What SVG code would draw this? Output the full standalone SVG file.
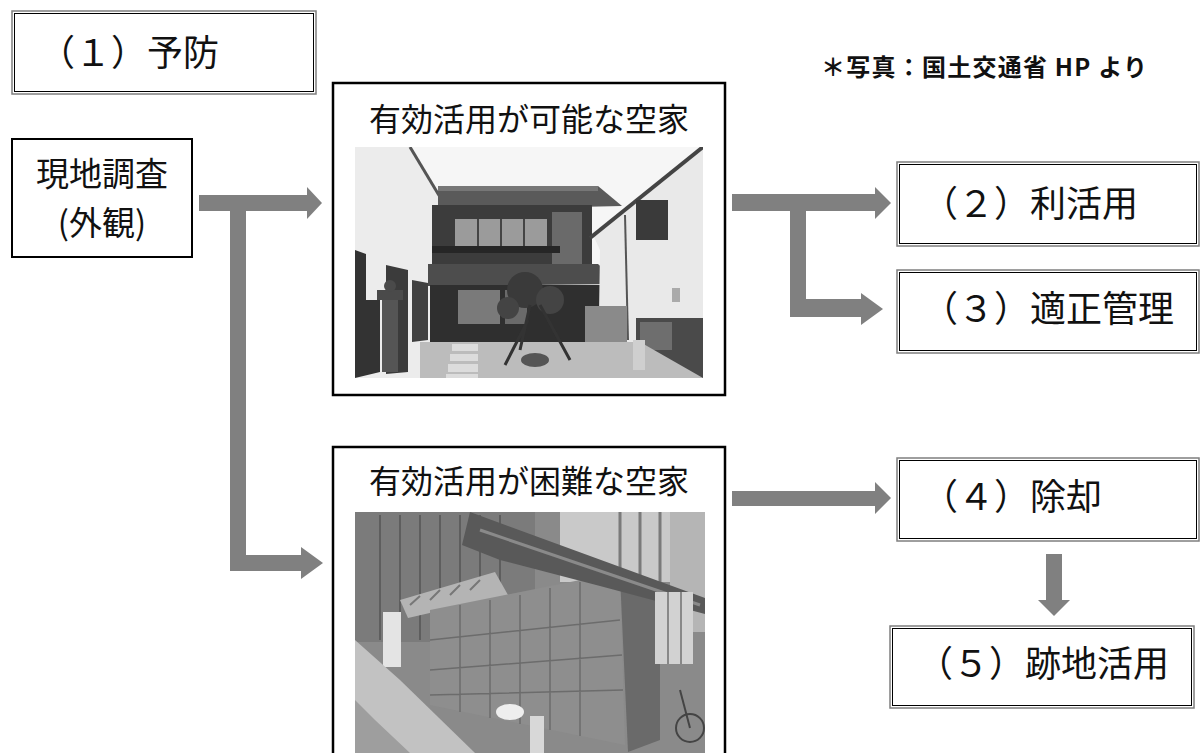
<svg xmlns="http://www.w3.org/2000/svg" width="1200" height="753" viewBox="0 0 1200 753">
<defs>
<style>
.t{font-family:"Noto Sans CJK JP","Noto Sans CJK SC",sans-serif;fill:#111}
.big{font-size:36px}
.mid{font-size:33px}
.ttl{font-size:32px}
.note{font-size:24px;font-weight:bold}
.dout{fill:#fff;stroke:#7f7f7f;stroke-width:1.5}
.din{fill:none;stroke:#000;stroke-width:1}
.solid{fill:#fff;stroke:#000;stroke-width:2}
.frame{fill:none;stroke:#000;stroke-width:2.5}
.arr{fill:#808080}
</style>
<clipPath id="c1"><rect x="355" y="147" width="348" height="231"/></clipPath>
<clipPath id="c2"><rect x="355" y="512" width="350" height="241"/></clipPath>
</defs>
<rect width="1200" height="753" fill="#fff"/>

<g id="note"><text class="t note" x="821" y="76" textLength="326" lengthAdjust="spacing">＊写真：国土交通省 HP より</text></g>

<g id="n1">
<rect class="dout" x="12" y="11" width="304" height="83"/>
<rect class="din" x="14.5" y="13.5" width="299" height="78"/>
<text class="t big" x="39" y="66">（１）予防</text>
</g>

<g id="survey">
<rect class="solid" x="12" y="139" width="180" height="118"/>
<text class="t mid" x="102" y="186" text-anchor="middle">現地調査</text>
<text class="t mid" x="102" y="235" text-anchor="middle">(外観)</text>
</g>

<g id="usable">
<rect x="333" y="83" width="392" height="312" fill="#fff"/>
<text class="t ttl" x="529" y="131" text-anchor="middle">有効活用が可能な空家</text>
<g id="photo1" clip-path="url(#c1)">
<rect x="355" y="147" width="348" height="231" fill="#f6f6f6"/>
<polygon points="355,147 410,147 442,200 440,378 355,378" fill="#ececec"/>
<line x1="410" y1="147" x2="443" y2="202" stroke="#555" stroke-width="3"/>
<polygon points="355,250 366,254 366,300 380,300 380,372 355,378" fill="#333"/>
<polygon points="386,265 408,270 408,372 386,374" fill="#3b3b3b"/>
<polygon points="412,280 428,283 428,340 412,342" fill="#404040"/>
<polygon points="438,186 598,186 622,206 438,210" fill="#5a5a5a"/>
<rect x="438" y="186" width="160" height="5" fill="#777"/>
<rect x="432" y="205" width="160" height="64" fill="#3c3c3c"/>
<rect x="455" y="219" width="92" height="29" fill="#9b9b9b"/>
<line x1="478" y1="219" x2="478" y2="248" stroke="#444" stroke-width="2"/>
<line x1="501" y1="219" x2="501" y2="248" stroke="#444" stroke-width="2"/>
<line x1="524" y1="219" x2="524" y2="248" stroke="#444" stroke-width="2"/>
<rect x="552" y="212" width="30" height="52" fill="#6a6a6a"/>
<rect x="432" y="246" width="128" height="7" fill="#262626"/>
<polygon points="428,264 598,264 620,284 428,286" fill="#4d4d4d"/>
<rect x="430" y="285" width="170" height="58" fill="#2f2f2f"/>
<rect x="458" y="290" width="42" height="34" fill="#7a7a7a"/>
<rect x="505" y="290" width="22" height="34" fill="#6a6a6a"/>
<polygon points="593,235 703,147 703,378 598,378 600,250" fill="#e9e9e9"/>
<line x1="590" y1="238" x2="703" y2="147" stroke="#444" stroke-width="4"/>
<rect x="636" y="200" width="32" height="40" fill="#3a3a3a"/>
<line x1="625" y1="215" x2="628" y2="340" stroke="#555" stroke-width="2"/>
<rect x="672" y="288" width="8" height="14" fill="#aaa"/>
<rect x="585" y="306" width="42" height="52" fill="#8a8a8a"/>
<rect x="636" y="318" width="67" height="60" fill="#4a4a4a"/>
<rect x="640" y="322" width="32" height="28" fill="#6e6e6e"/>
<polygon points="420,342 640,342 703,378 420,378" fill="#bcbcbc"/>
<rect x="452" y="344" width="26" height="7" fill="#dcdcdc"/>
<rect x="450" y="354" width="28" height="7" fill="#dcdcdc"/>
<rect x="448" y="364" width="30" height="8" fill="#dcdcdc"/>
<rect x="446" y="374" width="32" height="6" fill="#dcdcdc"/>
<circle cx="525" cy="290" r="18" fill="#3a3a3a"/>
<circle cx="550" cy="300" r="14" fill="#444"/>
<circle cx="508" cy="308" r="11" fill="#444"/>
<path d="M530 305 L520 350 M540 305 L570 360 M528 320 L505 365" stroke="#333" stroke-width="3" fill="none"/>
<ellipse cx="535" cy="360" rx="14" ry="7" fill="#555"/>
<rect x="382" y="298" width="16" height="74" fill="#555"/>
<rect x="377" y="290" width="26" height="10" fill="#4a4a4a"/>
<circle cx="390" cy="286" r="6" fill="#4a4a4a"/>
<rect x="633" y="340" width="12" height="30" fill="#cfcfcf"/>
</g>
<rect class="frame" x="333" y="83" width="392" height="312"/>
</g>

<g id="difficult">
<rect x="333" y="447" width="392" height="320" fill="#fff"/>
<text class="t ttl" x="529" y="493" text-anchor="middle">有効活用が困難な空家</text>
<g id="photo2" clip-path="url(#c2)">
<rect x="355" y="512" width="350" height="241" fill="#8a8a8a"/>
<rect x="355" y="512" width="180" height="130" fill="#7b7b7b"/>
<path d="M380 515 V640 M400 515 V640 M420 515 V640 M440 515 V630 M460 515 V620 M480 515 V615 M500 515 V610" stroke="#5e5e5e" stroke-width="2"/>
<rect x="560" y="512" width="145" height="70" fill="#c9c9c9"/>
<path d="M620 512 V580 M640 512 V580 M660 512 V585 M680 512 V590" stroke="#7a7a7a" stroke-width="3"/>
<rect x="670" y="512" width="35" height="120" fill="#b5b5b5"/>
<polygon points="400,600 495,572 508,595 408,618" fill="#b4b4b4"/>
<path d="M410 605 L420 596 M430 600 L440 590 M450 595 L460 585 M470 590 L480 580" stroke="#777" stroke-width="2"/>
<polygon points="430,610 620,572 625,745 430,705" fill="#8e8e8e"/>
<path d="M460 605 V712 M490 600 V718 M520 595 V724 M550 588 V730 M580 582 V736 M430 640 L620 620 M430 670 L622 655 M430 695 L623 690" stroke="#6c6c6c" stroke-width="1.5"/>
<polygon points="620,575 660,590 660,740 628,752" fill="#6a6a6a"/>
<polygon points="462,545 470,512 705,598 705,614 600,586 500,560" fill="#595959"/>
<path d="M480 530 L700 605" stroke="#8a8a8a" stroke-width="3"/>
<rect x="655" y="592" width="38" height="72" fill="#d2d2d2"/>
<line x1="668" y1="592" x2="668" y2="664" stroke="#888" stroke-width="2"/>
<line x1="681" y1="592" x2="681" y2="664" stroke="#888" stroke-width="2"/>
<rect x="383" y="612" width="18" height="55" fill="#e4e4e4"/>
<polygon points="355,640 400,680 475,753 355,753" fill="#c2c2c2"/>
<polygon points="355,700 375,720 410,753 355,753" fill="#9e9e9e"/>
<ellipse cx="510" cy="712" rx="14" ry="8" fill="#eeeeee"/>
<rect x="530" y="716" width="14" height="37" fill="#d8d8d8"/>
<circle cx="690" cy="728" r="14" fill="none" stroke="#444" stroke-width="2"/>
<line x1="680" y1="690" x2="690" y2="728" stroke="#444" stroke-width="2"/>
</g>
<rect class="frame" x="333" y="447" width="392" height="320"/>
</g>

<g id="n2">
<rect class="dout" x="897" y="162" width="302" height="84"/>
<rect class="din" x="899.5" y="164.5" width="297" height="79"/>
<text class="t big" x="922" y="217">（２）利活用</text>
</g>
<g id="n3">
<rect class="dout" x="897" y="270" width="302" height="83"/>
<rect class="din" x="899.5" y="272.5" width="297" height="78"/>
<text class="t big" x="922" y="322">（３）適正管理</text>
</g>
<g id="n4">
<rect class="dout" x="897" y="458" width="302" height="83"/>
<rect class="din" x="899.5" y="460.5" width="297" height="78"/>
<text class="t big" x="922" y="510">（４）除却</text>
</g>
<g id="n5">
<rect class="dout" x="890" y="626" width="304" height="82"/>
<rect class="din" x="892.5" y="628.5" width="299" height="77"/>
<text class="t big" x="917" y="677">（５）跡地活用</text>
</g>

<g id="connectors">
<polygon class="arr" points="199,195 307,195 307,187 322,203 307,219 307,211 246,211 246,555 301,555 301,547 323,563 301,579 301,571 230,571 230,211 199,211"/>
<polygon class="arr" points="732,194 875,194 875,187 891,203 875,219 875,211 806,211 806,299 861,299 861,293 883,309 861,325 861,317 790,317 790,211 732,211"/>
<polygon class="arr" points="732,491 875,491 875,482 891,498 875,514 875,506 732,506"/>
<polygon class="arr" points="1046,554 1062,554 1062,600 1070,600 1054,616 1038,600 1046,600"/>
</g>
</svg>
